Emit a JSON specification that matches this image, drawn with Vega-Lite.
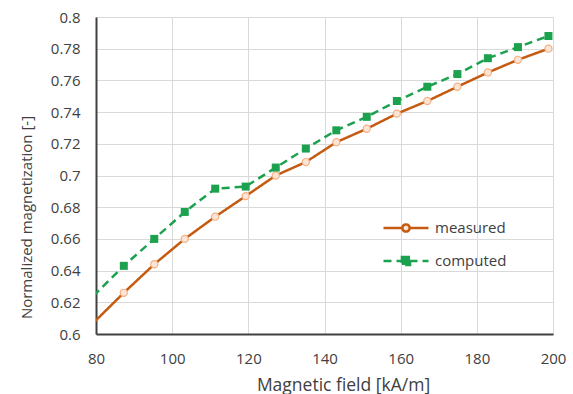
{
  "$schema": "https://vega.github.io/schema/vega-lite/v6.json",
  "autosize": "none",
  "padding": {"left": 96, "top": 17, "right": 20, "bottom": 60},
  "width": 457,
  "height": 317,
  "background": "white",
  "config": {
    "view": {"stroke": null},
    "font": "Open Sans",
    "axis": {"labelColor": "#404040", "titleColor": "#404040", "labelFont": "Open Sans", "titleFont": "Open Sans", "titleFontWeight": "normal"}
  },
  "data": {
    "values": [
      {"x": 79.3, "y": 0.607, "series": "measured"},
      {"x": 87.3, "y": 0.626, "series": "measured"},
      {"x": 95.3, "y": 0.644, "series": "measured"},
      {"x": 103.3, "y": 0.660, "series": "measured"},
      {"x": 111.3, "y": 0.674, "series": "measured"},
      {"x": 119.3, "y": 0.687, "series": "measured"},
      {"x": 127.2, "y": 0.700, "series": "measured"},
      {"x": 135.1, "y": 0.7085, "series": "measured"},
      {"x": 143.1, "y": 0.721, "series": "measured"},
      {"x": 151.1, "y": 0.7295, "series": "measured"},
      {"x": 159.0, "y": 0.739, "series": "measured"},
      {"x": 167.0, "y": 0.747, "series": "measured"},
      {"x": 174.9, "y": 0.756, "series": "measured"},
      {"x": 182.9, "y": 0.765, "series": "measured"},
      {"x": 190.8, "y": 0.773, "series": "measured"},
      {"x": 198.8, "y": 0.780, "series": "measured"},
      {"x": 79.3, "y": 0.624, "series": "computed"},
      {"x": 87.3, "y": 0.643, "series": "computed"},
      {"x": 95.3, "y": 0.660, "series": "computed"},
      {"x": 103.3, "y": 0.677, "series": "computed"},
      {"x": 111.3, "y": 0.6917, "series": "computed"},
      {"x": 119.3, "y": 0.693, "series": "computed"},
      {"x": 127.2, "y": 0.705, "series": "computed"},
      {"x": 135.1, "y": 0.717, "series": "computed"},
      {"x": 143.1, "y": 0.7285, "series": "computed"},
      {"x": 151.1, "y": 0.737, "series": "computed"},
      {"x": 159.0, "y": 0.747, "series": "computed"},
      {"x": 167.0, "y": 0.756, "series": "computed"},
      {"x": 174.9, "y": 0.764, "series": "computed"},
      {"x": 182.9, "y": 0.774, "series": "computed"},
      {"x": 190.8, "y": 0.781, "series": "computed"},
      {"x": 198.8, "y": 0.788, "series": "computed"}
    ]
  },
  "encoding": {
    "x": {
      "field": "x", "type": "quantitative",
      "scale": {"domain": [80, 200], "nice": false, "zero": false},
      "axis": {
        "title": "Magnetic field [kA/m]",
        "values": [80, 100, 120, 140, 160, 180, 200],
        "labelFontSize": 15, "labelPadding": 17, "labelFlush": false, "labelBound": false,
        "ticks": false, "domainColor": "#404040", "domainWidth": 2,
        "gridColor": "#d9d9d9", "gridWidth": 1,
        "titleFontSize": 17.5, "titleX": 247, "titleY": 56, "titleBaseline": "alphabetic", "titleAlign": "center"
      }
    },
    "y": {
      "field": "y", "type": "quantitative",
      "scale": {"domain": [0.6, 0.8], "nice": false, "zero": false},
      "axis": {
        "title": "Normalized magnetization [-]",
        "values": [0.6, 0.62, 0.64, 0.66, 0.68, 0.7, 0.72, 0.74, 0.76, 0.78, 0.8],
        "format": ".2~f",
        "labelFontSize": 15, "labelPadding": 16, "labelFlush": false, "labelBound": false,
        "ticks": false, "domainColor": "#404040", "domainWidth": 2,
        "gridColor": "#d9d9d9", "gridWidth": 1,
        "titleFontSize": 15, "titleX": -70, "titleY": 200, "titleBaseline": "middle", "titleAlign": "center", "titleAngle": -90
      }
    }
  },
  "layer": [
    {
      "mark": {"type": "line", "strokeWidth": 2.5, "clip": true},
      "encoding": {
        "color": {
          "field": "series", "type": "nominal",
          "scale": {"domain": ["measured", "computed"], "range": ["#c55a11", "#1ca24f"]},
          "legend": {
            "title": null, "orient": "none", "legendX": 286, "legendY": 187,
            "symbolSize": 2025, "symbolStrokeWidth": 2.5,
            "labelFontSize": 15, "labelColor": "#404040", "labelOffset": 5, "rowPadding": -11,
            "encode": {
              "symbols": {
                "update": {
                  "shape": {"signal": "datum.value === 'computed' ? 'M-1,0L1,0M-0.18,-0.18L0.18,-0.18L0.18,0.18L-0.18,0.18Z' : 'M-1,0L-0.16,0M0.16,0L1,0M0.16,0A0.16,0.16 0 1,1 -0.16,0A0.16,0.16 0 1,1 0.16,0Z'"},
                  "fill": {"signal": "datum.value === 'computed' ? '#1ca24f' : '#fce4d6'"},
                  "stroke": {"signal": "datum.value === 'computed' ? '#1ca24f' : '#c55a11'"},
                  "strokeDash": {"signal": "datum.value === 'computed' ? [6, 4] : [1, 0]"},
                  "strokeWidth": {"value": 2.5},
                  "opacity": {"value": 1}
                }
              }
            }
          }
        },
        "strokeDash": {
          "field": "series", "type": "nominal",
          "scale": {"domain": ["measured", "computed"], "range": [[1, 0], [8, 5]]},
          "legend": null
        }
      }
    },
    {
      "transform": [{"filter": "datum.series === 'measured' && datum.x >= 80"}],
      "mark": {"type": "point", "shape": "circle", "size": 50, "filled": true, "fill": "#fce4d6", "stroke": "#f4b183", "strokeWidth": 1.2, "opacity": 1}
    },
    {
      "transform": [{"filter": "datum.series === 'computed' && datum.x >= 80"}],
      "mark": {"type": "point", "shape": "square", "size": 64, "filled": true, "fill": "#1ca24f", "strokeWidth": 0, "opacity": 1}
    }
  ]
}
